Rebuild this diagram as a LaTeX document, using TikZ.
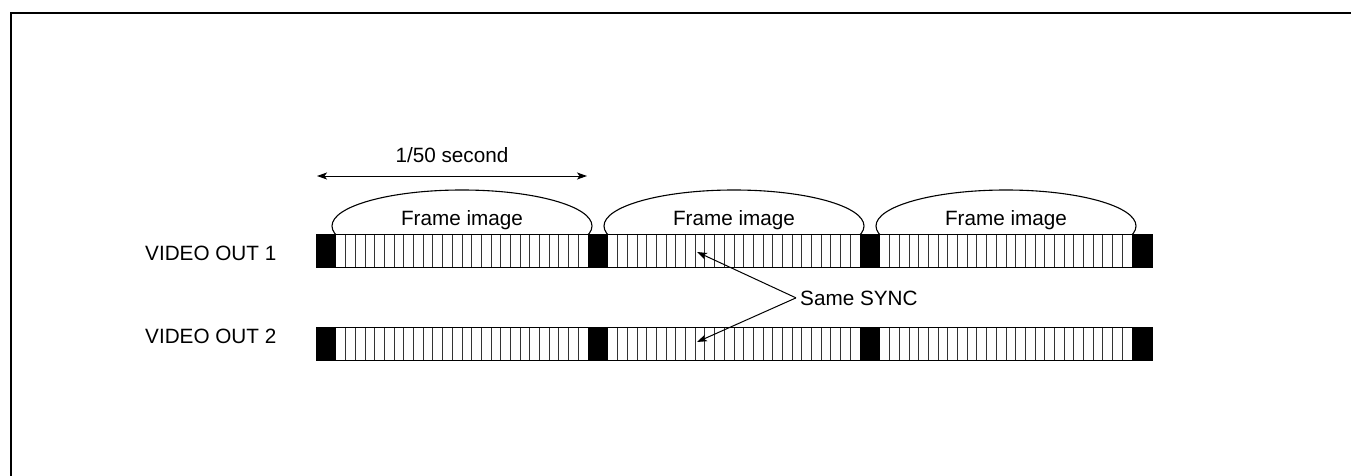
\documentclass[tikz,border=0pt]{standalone}
\usepackage{fontspec}
\setmainfont{Liberation Sans}
\usetikzlibrary{arrows.meta}
\begin{document}
\begin{tikzpicture}[x=1pt,y=-1pt,
  lbl/.style={inner sep=0pt, font=\fontsize{20.7}{24}\selectfont},
  tip/.style={line width=1pt,-{Stealth[length=10pt,width=7pt,inset=2.5pt]}},
  dbl/.style={line width=1pt,{Stealth[length=10pt,width=7pt,inset=2.5pt]}-{Stealth[length=10pt,width=7pt,inset=2.5pt]}},
  stripe/.style={line width=0.9pt, black!80},
  barline/.style={line width=1pt},
  arcline/.style={line width=1.1pt}]
\useasboundingbox (0,0) rectangle (1351,476);
\draw[line width=1.3pt] (11,476) -- (11,13) -- (1351,13);
% bars
\foreach \yt in {234,327} {
  \foreach \i in {0,1,2} {
    \pgfmathsetmacro\s{316+272*\i}
    \fill (\s,\yt) rectangle ++(20,33);
    \foreach \k in {1,...,25} \draw[stripe] (\s+20+\k*9.692,\yt) -- ++(0,33);
  }
  \fill (1132,\yt) rectangle ++(20,33);
  \draw[barline] (316,\yt) rectangle (1152,\yt+33);
}
% arcs
\begin{scope}
  \clip (300,0) rectangle (1200,234);
  \foreach \i in {0,1,2} \draw[arcline] (316+272*\i+146,226) ellipse [x radius=130pt, y radius=36pt];
\end{scope}
% labels
\node[lbl,anchor=base] (sec) at (452,162) {1/50 second};
\coordinate (al) at (317,176);
\coordinate (ar) at (587,176);
\draw[dbl] (al) -- (ar);
\node[lbl,anchor=base] (f1) at (462,225) {Frame image};
\node[lbl,anchor=base] (f2) at (734,225) {Frame image};
\node[lbl,anchor=base] (f3) at (1006,225) {Frame image};
\node[lbl,anchor=base west] (v1) at (145,260) {VIDEO OUT 1};
\node[lbl,anchor=base west] (v2) at (145,343) {VIDEO OUT 2};
\node[lbl,anchor=base west] (sync) at (800,305) {Same SYNC};
\coordinate (t1) at (697,252);
\coordinate (t2) at (697,342);
\draw[tip] ([xshift=-4pt]sync.west) -- (t1);
\draw[tip] ([xshift=-4pt]sync.west) -- (t2);
\end{tikzpicture}
\end{document}
